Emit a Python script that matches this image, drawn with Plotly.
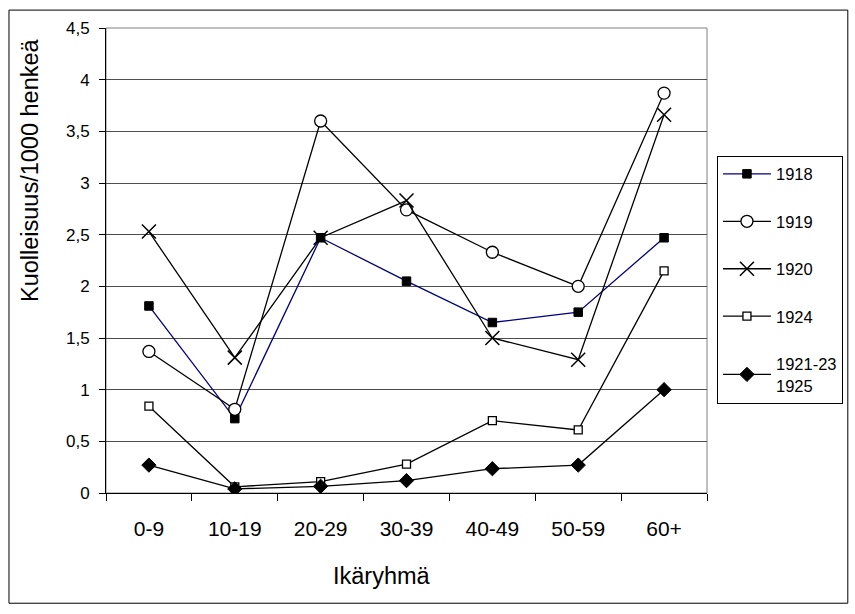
import plotly.graph_objects as go

categories = ["0-9", "10-19", "20-29", "30-39", "40-49", "50-59", "60+"]
y1918 = [1.81, 0.72, 2.47, 2.05, 1.65, 1.75, 2.47]
y1919 = [1.37, 0.81, 3.60, 2.74, 2.33, 2.00, 3.87]
y1920 = [2.53, 1.31, 2.47, 2.83, 1.50, 1.29, 3.66]
y1924 = [0.84, 0.06, 0.11, 0.28, 0.70, 0.61, 2.15]
y1921_25 = [0.27, 0.04, 0.065, 0.12, 0.235, 0.27, 1.00]
series_names = ["1918", "1919", "1920", "1924", "1921-23<br>1925"]

FONT = "Liberation Sans, Arial, sans-serif"

# plot area in pixels
L, R, T, B = 106, 710, 28.4, 493.3
W, H = R - L, B - T
def px(x):
    return (x - L) / W
def py(y):
    return (B - y) / H

fig = go.Figure()
styles = [
    dict(line=dict(color="#000080", width=1.3), marker=dict(symbol="square", size=8.5, color="black", line=dict(color="black", width=1))),
    dict(line=dict(color="black", width=1.3), marker=dict(symbol="circle", size=12, color="white", line=dict(color="black", width=1.3))),
    dict(line=dict(color="black", width=1.3), marker=dict(symbol="x-thin-open", size=14, color="black", line=dict(color="black", width=1.5))),
    dict(line=dict(color="black", width=1.3), marker=dict(symbol="square", size=8, color="white", line=dict(color="black", width=1.3))),
    dict(line=dict(color="black", width=1.3), marker=dict(symbol="diamond", size=11, color="black", line=dict(color="black", width=1))),
]
for name, vals, st in zip(series_names, [y1918, y1919, y1920, y1924, y1921_25], styles):
    fig.add_trace(go.Scatter(x=categories, y=vals, name=name, mode="lines+markers",
                             legendgroup=name, **st))

fig.update_layout(
    width=855, height=614,
    margin=dict(l=L, r=855 - R, t=T, b=614 - B, pad=0),
    paper_bgcolor="white", plot_bgcolor="white",
    separators=", ",
    font=dict(family=FONT, color="black", size=17),
    showlegend=True,
    legend=dict(x=px(720), y=py(156), xanchor="left", yanchor="top",
                bordercolor="black", borderwidth=1, bgcolor="white",
                font=dict(size=16.5, family=FONT, color="black"),
                tracegroupgap=23, itemwidth=48, traceorder="grouped"),
    xaxis=dict(type="category", range=[-0.5, 6.5], showgrid=False,
               showline=True, linecolor="black", linewidth=1,
               ticks="outside", tickson="boundaries", ticklen=7, tickcolor="black",
               ticklabelstandoff=17,
               tickfont=dict(size=21, family=FONT), fixedrange=True),
    yaxis=dict(range=[0, 4.5], dtick=0.5, tick0=0, showgrid=True, gridcolor="#4d4d4d",
               gridwidth=1, showline=True, linecolor="black", linewidth=1,
               ticks="outside", ticklen=6, tickcolor="black", zeroline=False,
               ticklabelstandoff=6,
               tickfont=dict(size=17, family=FONT), fixedrange=True),
    shapes=[
        dict(type="rect", xref="paper", yref="paper", x0=0, x1=1, y0=0, y1=1,
             line=dict(color="#808080", width=1), layer="below"),
        dict(type="rect", xref="paper", yref="paper", x0=px(8.5), x1=px(851.5),
             y0=py(603.5), y1=py(10.5), line=dict(color="black", width=1)),
    ],
    annotations=[
        dict(text="Kuolleisuus/1000 henkeä", textangle=-90, xref="paper", yref="paper",
             x=px(29), y=py(170), showarrow=False, font=dict(size=23.5, family=FONT),
             xanchor="center", yanchor="middle"),
        dict(text="Ikäryhmä", xref="paper", yref="paper", x=px(383), y=py(576),
             showarrow=False, font=dict(size=23.5, family=FONT),
             xanchor="center", yanchor="middle"),
    ],
)

fig.write_html("out.html")
